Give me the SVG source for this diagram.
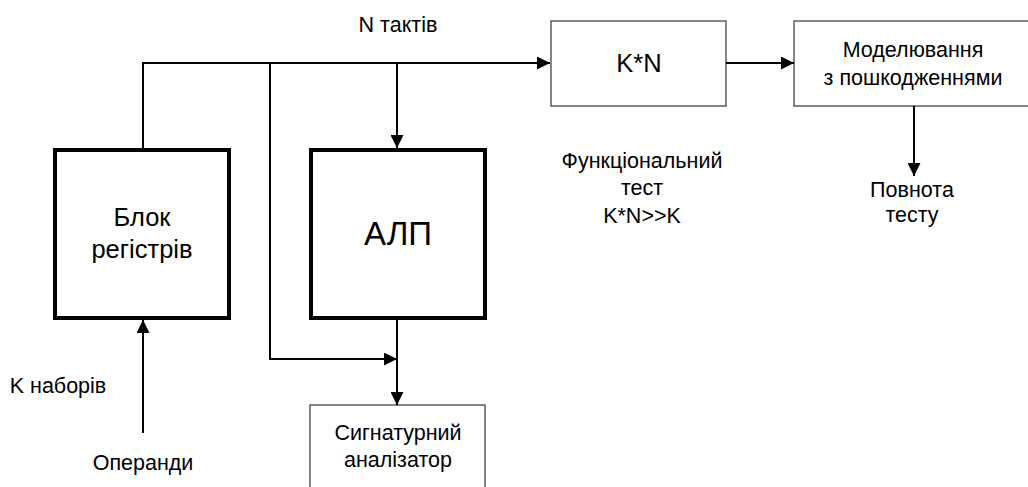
<svg xmlns="http://www.w3.org/2000/svg" width="1028" height="487" viewBox="0 0 1028 487">
<defs>
<marker id="arr" markerUnits="userSpaceOnUse" markerWidth="13" markerHeight="13" refX="13" refY="6.5" orient="auto">
<path d="M0,0 L13,6.5 L0,13 z" fill="#000"/>
</marker>
<style>
text{font-family:"Liberation Sans",Arial,sans-serif;fill:#000;text-anchor:middle}
.lbl{font-size:21.5px}
.thick{fill:#fff;stroke:#000;stroke-width:4}
.thin{fill:#fff;stroke:#444;stroke-width:1.3}
.con{fill:none;stroke:#000;stroke-width:2}
</style>
</defs>
<rect width="1028" height="487" fill="#fff"/>
<g id="registers">
<rect class="thick" x="55" y="150" width="174" height="168"/>
<text x="142" y="226" font-size="25.5">Блок</text>
<text x="142" y="258" font-size="25.5">регістрів</text>
</g>
<g id="alu">
<rect class="thick" x="311" y="150" width="174" height="168"/>
<text x="398" y="245" font-size="33">АЛП</text>
</g>
<g id="kn">
<rect class="thin" x="551" y="21" width="175" height="85"/>
<text x="639" y="72" font-size="25.5">K*N</text>
</g>
<g id="model">
<rect class="thin" x="794" y="21" width="240" height="85"/>
<text class="lbl" x="913" y="57">Моделювання</text>
<text class="lbl" x="913" y="85">з пошкодженнями</text>
</g>
<g id="signature">
<rect class="thin" x="310" y="405" width="175" height="90"/>
<text class="lbl" x="398" y="440">Сигнатурний</text>
<text class="lbl" x="398" y="467">аналізатор</text>
</g>
<g id="labels">
<text class="lbl" x="398" y="32">N тактів</text>
<text class="lbl" x="642" y="168">Функціональний</text>
<text class="lbl" x="642" y="195">тест</text>
<text class="lbl" x="642" y="223">K*N&gt;&gt;K</text>
<text class="lbl" x="912" y="197">Повнота</text>
<text class="lbl" x="912" y="222">тесту</text>
<text class="lbl" x="58" y="393">K наборів</text>
<text class="lbl" x="143" y="470">Операнди</text>
</g>
<g id="connectors">
<path class="con" d="M143,148 V63 H550" marker-end="url(#arr)"/>
<path class="con" d="M270,63 V359 H397" marker-end="url(#arr)"/>
<path class="con" d="M397,63 V148" marker-end="url(#arr)"/>
<path class="con" d="M397,320 V405" marker-end="url(#arr)"/>
<path class="con" d="M726,63 H794" marker-end="url(#arr)"/>
<path class="con" d="M914,106 V176" marker-end="url(#arr)"/>
<path class="con" d="M143,433 V320" marker-end="url(#arr)"/>
</g>
</svg>
